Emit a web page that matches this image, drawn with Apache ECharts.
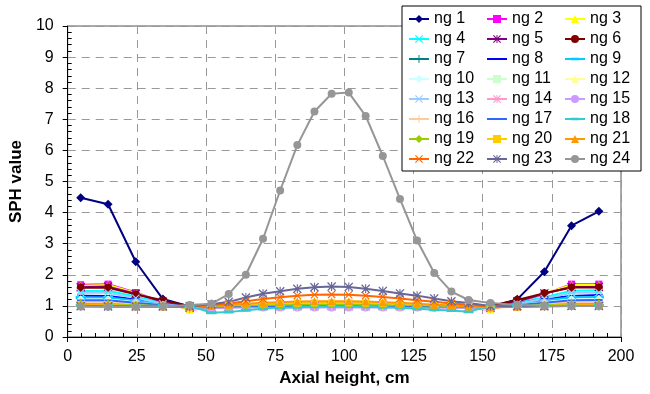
<!DOCTYPE html>
<html>
<head>
<meta charset="utf-8">
<script src="https://cdn.jsdelivr.net/npm/echarts@6/dist/echarts.min.js"></script>
<style>
  html, body { margin: 0; padding: 0; background: #fff; }
  #chart { width: 650px; height: 394px; }
</style>
</head>
<body>
<div id="chart"></div>
<script>
// axial heights (cm) where each node group was sampled
const heights = [4.7, 14.6, 24.6, 34.4, 44.1, 52.0, 58.2, 64.4, 70.6, 76.8, 83.0, 89.2, 95.4,
  101.6, 107.7, 113.9, 120.1, 126.3, 132.5, 138.7, 144.9, 152.8, 162.5, 172.3, 182.1, 192.0];

const ng1 = [4.48, 4.27, 2.42, 1.22, 0.98, 0.99, 0.99, 1.0, 1.0, 1.0, 1.0, 1.0, 1.0, 1.0, 1.0, 1.0, 1.0, 1.0, 0.99, 0.99, 0.98, 0.98, 1.21, 2.10, 3.58, 4.04];
const ng2 = [1.68, 1.70, 1.43, 1.12, 0.88, 0.93, 0.96, 0.98, 0.99, 1.0, 1.0, 1.0, 1.0, 1.0, 1.0, 1.0, 0.99, 0.98, 0.97, 0.95, 0.93, 0.88, 1.12, 1.38, 1.70, 1.70];
const ng3 = [1.65, 1.67, 1.42, 1.11, 0.89, 0.94, 0.97, 0.98, 0.99, 1.0, 1.0, 1.0, 1.0, 1.0, 1.0, 1.0, 0.99, 0.98, 0.97, 0.96, 0.94, 0.89, 1.13, 1.40, 1.67, 1.67];
const ng4 = [1.48, 1.49, 1.30, 1.09, 0.93, 0.96, 0.98, 0.99, 1.0, 1.0, 1.0, 1.0, 1.0, 1.0, 1.0, 1.0, 1.0, 0.99, 0.98, 0.97, 0.96, 0.93, 1.09, 1.28, 1.49, 1.50];
const ng5 = [1.60, 1.62, 1.39, 1.13, 0.94, 0.96, 0.98, 0.99, 1.0, 1.0, 1.0, 1.0, 1.0, 1.0, 1.0, 1.0, 1.0, 0.99, 0.98, 0.97, 0.96, 0.94, 1.14, 1.40, 1.61, 1.61];
const ng6 = [1.58, 1.58, 1.37, 1.18, 0.99, 0.99, 0.99, 1.0, 1.0, 1.0, 1.0, 1.0, 1.0, 1.0, 1.0, 1.0, 1.0, 1.0, 1.0, 0.99, 0.99, 0.99, 1.19, 1.41, 1.59, 1.59];
const ng7 = [1.12, 1.12, 1.06, 1.01, 0.98, 0.98, 0.99, 1.0, 1.0, 1.0, 1.0, 1.0, 1.0, 1.0, 1.0, 1.0, 1.0, 1.0, 0.99, 0.99, 0.98, 0.98, 1.02, 1.07, 1.12, 1.12];
const ng8 = [1.33, 1.32, 1.21, 1.06, 0.96, 0.97, 0.98, 0.99, 1.0, 1.0, 1.0, 1.0, 1.0, 1.0, 1.0, 1.0, 1.0, 0.99, 0.98, 0.97, 0.97, 0.96, 1.08, 1.22, 1.32, 1.35];
const ng9 = [1.27, 1.27, 1.17, 1.04, 0.96, 0.97, 0.98, 0.99, 1.0, 1.0, 1.0, 1.0, 1.0, 1.0, 1.0, 1.0, 1.0, 0.99, 0.98, 0.97, 0.97, 0.96, 1.05, 1.17, 1.28, 1.29];
const ng10 = [1.20, 1.20, 1.12, 1.02, 0.96, 0.97, 0.98, 0.99, 0.99, 1.0, 1.0, 1.0, 1.0, 1.0, 1.0, 1.0, 0.99, 0.99, 0.98, 0.97, 0.97, 0.96, 1.03, 1.12, 1.20, 1.21];
const ng11 = [1.10, 1.10, 1.05, 1.0, 0.97, 0.97, 0.98, 0.99, 0.99, 1.0, 1.0, 1.0, 1.0, 1.0, 1.0, 1.0, 0.99, 0.99, 0.98, 0.98, 0.97, 0.97, 1.01, 1.05, 1.10, 1.10];
const ng12 = [1.15, 1.15, 1.08, 1.01, 0.96, 0.97, 0.98, 0.99, 0.99, 1.0, 1.0, 1.0, 1.0, 1.0, 1.0, 1.0, 0.99, 0.99, 0.98, 0.97, 0.97, 0.96, 1.02, 1.08, 1.15, 1.16];
const ng13 = [1.42, 1.42, 1.25, 1.07, 0.95, 0.96, 0.98, 0.99, 1.0, 1.0, 1.0, 1.0, 1.0, 1.0, 1.0, 1.0, 1.0, 0.99, 0.98, 0.97, 0.96, 0.95, 1.07, 1.24, 1.42, 1.43];
const ng14 = [1.08, 1.08, 1.04, 1.0, 0.97, 0.97, 0.98, 0.98, 0.99, 0.99, 0.99, 1.0, 1.0, 1.0, 0.99, 0.99, 0.99, 0.98, 0.98, 0.97, 0.97, 0.97, 1.0, 1.04, 1.08, 1.08];
const ng15 = [1.05, 1.05, 1.02, 0.99, 0.97, 0.94, 0.94, 0.95, 0.95, 0.95, 0.95, 0.95, 0.95, 0.95, 0.95, 0.95, 0.95, 0.95, 0.94, 0.94, 0.94, 0.97, 0.99, 1.02, 1.05, 1.05];
const ng16 = [1.13, 1.13, 1.07, 1.01, 0.97, 0.97, 0.98, 0.99, 0.99, 1.0, 1.0, 1.0, 1.0, 1.0, 1.0, 1.0, 0.99, 0.99, 0.98, 0.98, 0.97, 0.97, 1.01, 1.07, 1.13, 1.13];
const ng17 = [1.18, 1.18, 1.10, 1.02, 0.97, 0.97, 0.98, 0.99, 0.99, 1.0, 1.0, 1.0, 1.0, 1.0, 1.0, 1.0, 0.99, 0.99, 0.98, 0.98, 0.97, 0.97, 1.02, 1.10, 1.18, 1.19];
const ng18 = [1.02, 1.02, 1.0, 0.99, 1.0, 0.78, 0.80, 0.86, 0.91, 0.94, 0.96, 0.97, 0.98, 0.98, 0.97, 0.96, 0.94, 0.91, 0.88, 0.85, 0.81, 1.0, 1.0, 1.01, 1.02, 1.02];
const ng19 = [1.06, 1.05, 1.02, 1.0, 0.99, 1.0, 1.01, 1.02, 1.03, 1.04, 1.04, 1.05, 1.05, 1.05, 1.04, 1.04, 1.03, 1.02, 1.01, 1.0, 0.99, 0.98, 1.0, 1.02, 1.05, 1.06];
const ng20 = [1.03, 1.02, 1.0, 0.99, 0.98, 1.0, 1.03, 1.05, 1.07, 1.08, 1.09, 1.10, 1.10, 1.10, 1.09, 1.08, 1.07, 1.05, 1.03, 1.01, 0.99, 0.96, 0.98, 1.0, 1.02, 1.03];
const ng21 = [1.02, 1.01, 0.99, 0.98, 0.97, 1.0, 1.04, 1.07, 1.10, 1.12, 1.14, 1.15, 1.15, 1.15, 1.14, 1.12, 1.10, 1.07, 1.04, 1.01, 0.98, 0.95, 0.97, 0.99, 1.01, 1.02];
const ng22 = [1.0, 0.99, 0.98, 0.98, 0.98, 1.02, 1.08, 1.15, 1.22, 1.28, 1.33, 1.36, 1.37, 1.36, 1.33, 1.29, 1.24, 1.18, 1.13, 1.08, 1.04, 0.98, 0.98, 0.99, 1.0, 1.0];
const ng23 = [0.99, 0.98, 0.98, 0.98, 0.99, 1.05, 1.13, 1.27, 1.39, 1.47, 1.55, 1.60, 1.62, 1.61, 1.55, 1.48, 1.40, 1.33, 1.24, 1.15, 1.09, 1.0, 0.99, 0.99, 1.0, 1.0];
const ng24 = [0.98, 0.97, 0.97, 0.98, 1.03, 1.07, 1.38, 2.0, 3.16, 4.71, 6.17, 7.25, 7.82, 7.86, 7.11, 5.82, 4.44, 3.10, 2.06, 1.46, 1.19, 1.09, 1.03, 1.0, 1.0, 1.0];

const seriesNames = ['ng 1', 'ng 2', 'ng 3', 'ng 4', 'ng 5', 'ng 6', 'ng 7', 'ng 8', 'ng 9', 'ng 10', 'ng 11', 'ng 12',
  'ng 13', 'ng 14', 'ng 15', 'ng 16', 'ng 17', 'ng 18', 'ng 19', 'ng 20', 'ng 21', 'ng 22', 'ng 23', 'ng 24'];
const seriesValues = [ng1, ng2, ng3, ng4, ng5, ng6, ng7, ng8, ng9, ng10, ng11, ng12,
  ng13, ng14, ng15, ng16, ng17, ng18, ng19, ng20, ng21, ng22, ng23, ng24];

// Excel-style marker shapes (M..Z pairs at the corners keep the box square)
const X = 'path://M0,1L1,0L5,4L9,0L10,1L6,5L10,9L9,10L5,6L1,10L0,9L4,5Z';
const STAR = 'path://M0,1L1,0L5,4L9,0L10,1L6,5L10,9L9,10L5,6L1,10L0,9L4,5Z M4.4,0H5.6V10H4.4Z';
const PLUS = 'path://M4.4,0H5.6V4.4H10V5.6H5.6V10H4.4V5.6H0V4.4H4.4Z';
const DASH = 'path://M0,0Z M1,4H9V6H1Z M10,10Z';
const BAR = 'path://M0,0Z M0,3.5H10V6.5H0Z M10,10Z';

const colors = ['#000080', '#FF00FF', '#FFFF00', '#00FFFF', '#800080', '#800000', '#008080', '#0000FF',
  '#00CCFF', '#CCFFFF', '#CCFFCC', '#FFFF99', '#99CCFF', '#FF99CC', '#CC99FF', '#FFCC99',
  '#3366FF', '#33CCCC', '#99CC00', '#FFCC00', '#FF9900', '#FF6600', '#666699', '#969696'];
const markers = ['diamond', 'rect', 'triangle', X, STAR, 'circle', PLUS, DASH, BAR];
const markerSize = [9, 7, 8, 8, 9, 8, 9, 9, 10];

const chart = echarts.init(document.getElementById('chart'), null, { renderer: 'canvas' });
const font = 'Liberation Sans, Arial, sans-serif';

chart.setOption({
  animation: false,
  backgroundColor: '#fff',
  color: colors,
  grid: { left: 66, right: 29, top: 26, bottom: 57, show: true, borderColor: '#555', borderWidth: 1 },
  legend: {
    data: seriesNames,
    left: 402, top: 6, width: 250,
    orient: 'horizontal',
    padding: [5, 3, 4, 6],
    itemWidth: 20, itemHeight: 10, itemGap: 4,
    backgroundColor: '#fff', borderColor: '#000', borderWidth: 1, borderRadius: 0,
    textStyle: { fontFamily: font, fontSize: 16, color: '#000', width: 48, lineHeight: 12 },
    selectedMode: false,
  },
  xAxis: {
    type: 'value', min: 0, max: 200, interval: 25,
    name: 'Axial height, cm', nameLocation: 'middle', nameGap: 28,
    nameTextStyle: { fontFamily: font, fontSize: 17, fontWeight: 'bold', color: '#000' },
    axisLine: { show: true, onZero: false, lineStyle: { color: '#000', width: 1 } },
    axisTick: { show: true, length: 5, lineStyle: { color: '#000' } },
    minorTick: { show: true, splitNumber: 5, length: -4, lineStyle: { color: '#000' } },
    axisLabel: { fontFamily: font, fontSize: 16, color: '#000', margin: 12 },
    splitLine: { show: true, lineStyle: { color: '#999', type: [8, 6], width: 1 } },
  },
  yAxis: {
    type: 'value', min: 0, max: 10, interval: 1,
    name: 'SPH value', nameLocation: 'middle', nameGap: 38,
    nameTextStyle: { fontFamily: font, fontSize: 17, fontWeight: 'bold', color: '#000' },
    axisLine: { show: true, onZero: false, lineStyle: { color: '#000', width: 1 } },
    axisTick: { show: true, length: 5, lineStyle: { color: '#000' } },
    minorTick: { show: true, splitNumber: 5, length: -4, lineStyle: { color: '#000' } },
    axisLabel: { fontFamily: font, fontSize: 16, color: '#000', margin: 14 },
    splitLine: { show: true, lineStyle: { color: '#999', type: [8, 6], width: 1 } },
  },
  series: seriesValues.map((vals, i) => ({
    name: seriesNames[i],
    type: 'line',
    data: vals.map((v, j) => [heights[j], v]),
    symbol: markers[i % 9],
    symbolSize: markerSize[i % 9],
    showAllSymbol: true,
    lineStyle: { color: colors[i], width: 2 },
    itemStyle: { color: colors[i], borderWidth: 0 },
    emphasis: { disabled: true },
  })),
});
</script>
</body>
</html>
